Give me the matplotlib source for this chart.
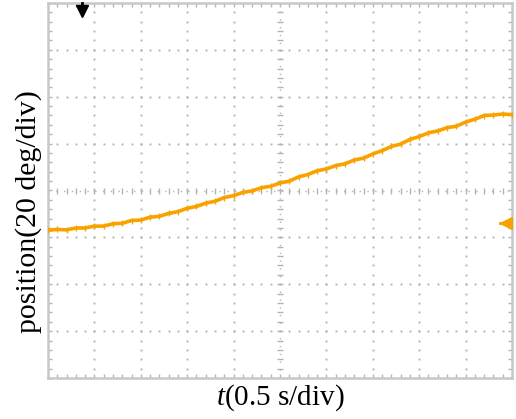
import matplotlib
matplotlib.use("Agg")
import matplotlib.pyplot as plt
import numpy as np

# ---- data (divisions) ----
t_div = [0.0, 0.2, 0.4, 0.6, 0.8, 1.0, 1.2, 1.4, 1.6, 1.8,
         2.0, 2.2, 2.4, 2.6, 2.8, 3.0, 3.2, 3.4, 3.6, 3.8,
         4.0, 4.2, 4.4, 4.6, 4.8, 5.0, 5.2, 5.4, 5.6, 5.8,
         6.0, 6.2, 6.4, 6.6, 6.8, 7.0, 7.2, 7.4, 7.6, 7.8,
         8.0, 8.2, 8.4, 8.6, 8.8, 9.0, 9.2, 9.4, 9.6, 9.8, 10.0]
pos_div = [-0.85, -0.83, -0.84, -0.80, -0.80, -0.76, -0.76, -0.71, -0.70, -0.64,
           -0.63, -0.57, -0.55, -0.49, -0.45, -0.38, -0.34, -0.27, -0.23, -0.15,
           -0.11, -0.04, -0.01, 0.06, 0.09, 0.16, 0.20, 0.29, 0.34, 0.42,
           0.46, 0.53, 0.57, 0.65, 0.69, 0.78, 0.85, 0.94, 0.99, 1.09,
           1.15, 1.23, 1.27, 1.34, 1.37, 1.46, 1.52, 1.60, 1.61, 1.63, 1.62]
x_label = r"$\mathit{t}$(0.5 s/div)"
y_label = "position(20 deg/div)"
n_xdiv, n_ydiv = 10, 8
trigger_t = 0.73
ground_level = -0.70

trace_color = "#f8a200"
grid_color = "#b4b4b4"
frame_color = "#c8c8c8"

plt.rcParams['mathtext.fontset'] = 'custom'
plt.rcParams['mathtext.it'] = 'Liberation Serif:italic'
plt.rcParams['mathtext.rm'] = 'Liberation Serif'

fig = plt.figure(figsize=(5.16, 4.19), dpi=100)
ax = fig.add_axes([48/516, 1-378/419, (512-48)/516, (378-3)/419])
ax.set_xlim(0, n_xdiv)
ax.set_ylim(-n_ydiv/2, n_ydiv/2)

# dotted grid
minor = 0.2
for k in range(1, n_xdiv):
    ys = np.arange(-n_ydiv/2, n_ydiv/2 + 1e-9, minor)
    if k == n_xdiv // 2:
        ax.plot([k]*len(ys), ys, ls='none', marker='_', ms=5, mew=1.0, color=grid_color, zorder=1)
        ax.plot([k, k], [-n_ydiv/2, n_ydiv/2], ls=(0, (1, 4.6)), lw=1.0, color=grid_color, zorder=1)
    else:
        ax.plot([k]*len(ys), ys, ls='none', marker='s', ms=1.4, mew=0, color=grid_color, zorder=1)
for k in range(1, n_ydiv):
    yv = k - n_ydiv/2
    xs = np.arange(0, n_xdiv + 1e-9, minor)
    if yv == 0:
        ax.plot(xs, [0]*len(xs), ls='none', marker='|', ms=5, mew=1.0, color=grid_color, zorder=1)
        ax.plot([0, n_xdiv], [0, 0], ls=(0, (1, 4.6)), lw=1.0, color=grid_color, zorder=1)
    else:
        ax.plot(xs, [yv]*len(xs), ls='none', marker='s', ms=1.4, mew=0, color=grid_color, zorder=1)

# trace
ax.plot(t_div, pos_div, color=trace_color, lw=2.6, zorder=3)
ax.plot(t_div, pos_div, ls='none', marker='|', ms=5, mew=1.0, color=trace_color, zorder=3)

# trigger marker
ax.plot([trigger_t, trigger_t], [4.0, 3.76], color='black', lw=2.0, zorder=4, clip_on=False)
ax.plot([trigger_t], [3.84], marker='v', ms=8, color='black', zorder=4, clip_on=False)
# ground marker
ax.plot([9.75, 10.0], [ground_level, ground_level], color=trace_color, lw=2.0, zorder=4)
ax.plot([9.86], [ground_level], marker='<', ms=8, color=trace_color, zorder=4)

# frame and ticks
for s in ax.spines.values():
    s.set_color(frame_color)
    s.set_linewidth(1.8)
ax.set_xticks(np.arange(0, n_xdiv + 1e-9, minor))
ax.set_yticks(np.arange(-n_ydiv/2, n_ydiv/2 + 1e-9, minor))
ax.tick_params(which='both', direction='in', length=3, width=1, color=grid_color,
               labelbottom=False, labelleft=False, top=True, right=True)

ax.set_xlabel(x_label, labelpad=3, family=['Liberation Serif', 'DejaVu Serif'], size=21)
ax.set_ylabel(y_label, family=['Liberation Serif', 'DejaVu Serif'], size=21.5)
ax.yaxis.set_label_coords(-0.012, 0.443)

fig.savefig("out.png", dpi=100)
